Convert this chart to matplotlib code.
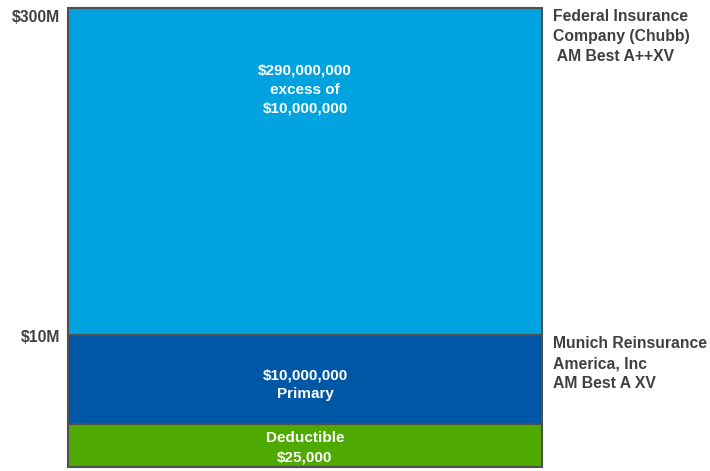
import matplotlib
matplotlib.use("Agg")
import matplotlib.pyplot as plt

plt.rcParams['font.family'] = ['Liberation Sans', 'DejaVu Sans']

# Schematic layer tower (not to scale), bottom to top
layers = ["Deductible", "Primary", "Excess"]
layer_heights = [43, 89, 327]          # schematic display heights
layer_colors = ["#4EA900", "#0057A6", "#00A3E0"]
layer_texts = ["Deductible\n$25,000",
               "$10,000,000\nPrimary",
               "$290,000,000\nexcess of\n$10,000,000"]
layer_text_pos = [0.45, 0.44, 0.75]    # relative position in layer
tick_labels = ["$10M", "$300M"]        # at top of Primary and Excess
tick_offsets = [3, 10]                 # px below boundary (label centre)
carriers = ["Munich Reinsurance\nAmerica, Inc\nAM Best A XV",
            "Federal Insurance\nCompany (Chubb)\n AM Best A++XV"]

W, H = 710, 471
fig = plt.figure(figsize=(W/100, H/100), dpi=100)
ax = fig.add_axes([68/W, 4/H, (542-68)/W, (467-8)/H])
total = sum(layer_heights)
ax.set_xlim(0, 1)
ax.set_ylim(0, total)
ax.axis('off')

txtcol = "#404040"
bottom = 0
tops = []
for h, c, t, rp in zip(layer_heights, layer_colors, layer_texts, layer_text_pos):
    ax.bar(0.5, h, width=1, bottom=bottom, color=c, edgecolor="#505050",
           linewidth=1.5, align='center', clip_on=False)
    ax.text(0.5, bottom + h*rp, t, ha='center', va='center', color='white',
            fontsize=11, fontweight='bold', linespacing=1.45)
    bottom += h
    tops.append(bottom)

for lab, y, off in zip(tick_labels, tops[1:], tick_offsets):
    ax.text(-0.017, y - off, lab, ha='right', va='center', color=txtcol,
            fontsize=11.3, fontweight='bold')

for lab, y in zip(carriers, tops[1:]):
    ax.text(1.023, y - 1, lab, ha='left', va='top', color=txtcol,
            fontsize=11.3, fontweight='bold', linespacing=1.42)

fig.savefig("out.png", dpi=100)
